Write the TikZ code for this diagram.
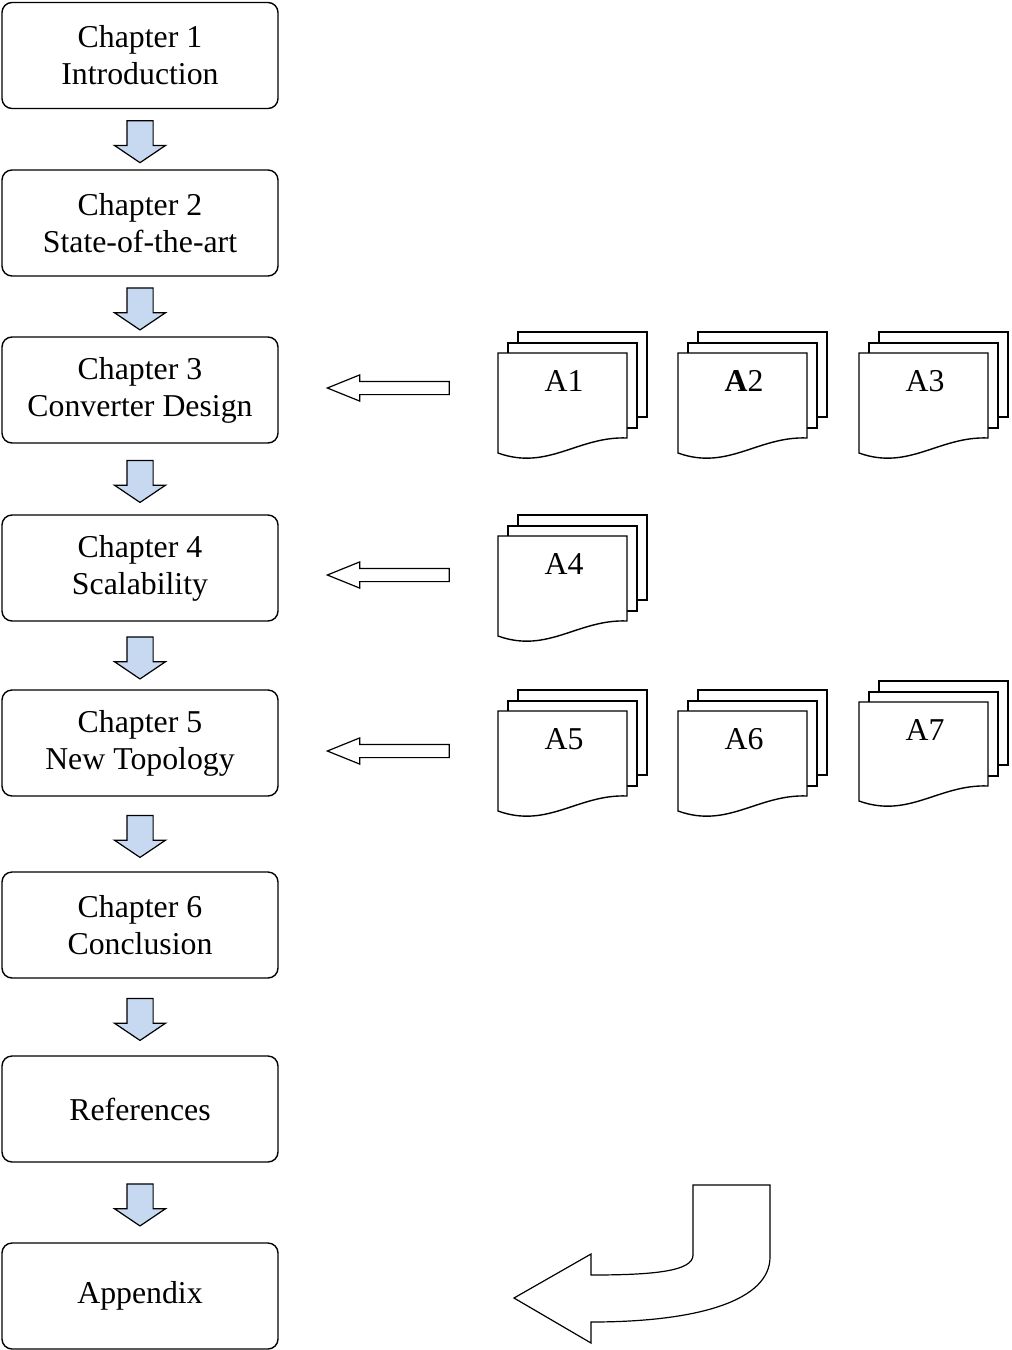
\documentclass[tikz,border=0pt]{standalone}
\usepackage{fontspec}
\setmainfont{Liberation Serif}
\usepackage{tikz}
\usetikzlibrary{arrows,shapes.arrows,calc}

\definecolor{arrblue}{RGB}{198,217,241}

\tikzset{
chap/.style={draw,thick,line width=1.4pt,rounded corners=10pt,minimum width=276pt,minimum height=106pt,align=center,font=\fontsize{31.8}{37}\selectfont},
downarr/.style={single arrow,draw,line width=1.2pt,fill=arrblue,inner xsep=12.5pt,inner ysep=0pt,minimum height=42pt,single arrow head extend=12.5pt,single arrow tip angle=112,shape border rotate=270},
leftarr/.style={single arrow,draw,line width=1.2pt,fill=white,inner xsep=0pt,inner ysep=6pt,minimum height=122pt,single arrow head extend=6.5pt,single arrow tip angle=44,shape border rotate=180},
doclab/.style={font=\fontsize{31.8}{37}\selectfont}
}

\begin{document}
\begin{tikzpicture}[x=1pt,y=-1pt]
\useasboundingbox (0,0) rectangle (1012,1350);

\foreach \i/\yy/\txt in {1/55.5/{Chapter 1\\Introduction},2/223/{Chapter 2\\State-of-the-art},3/390/{Chapter 3\\Converter Design},4/568/{Chapter 4\\Scalability},5/743/{Chapter 5\\New Topology},6/925/{Chapter 6\\Conclusion},7/1109/{References},8/1296/{Appendix}}
{
\node[chap] (c\i) at (140,\yy) {\txt};
}

\foreach \i/\j in {1/2,2/3,3/4,4/5,5/6,6/7,7/8}
{
\node[downarr] (d\i) at ($(c\i.south)!0.5!(c\j.north)+(0,-2)$) {};
}

\node[leftarr] (l3) at (396.5,388) {};
\node[leftarr] (l4) at (396.5,575) {};
\node[leftarr] (l5) at (396.5,751) {};

\foreach \x/\y/\h/\lab/\nm in {498/353/85/A1/a1,678/353/85/{\textbf{A}2}/a2,859/353/85/A3/a3,498/536/85/A4/a4,498/711/85/A5/a5,678/711/85/A6/a6,859/702/84/A7/a7}
{
\filldraw[line width=1.4pt,fill=white] (\x+20,\y-21) rectangle (\x+149,\y-21+\h);
\filldraw[line width=1.4pt,fill=white] (\x+10,\y-10) rectangle (\x+139,\y-10+\h);
\filldraw[line width=1.4pt,fill=white] (\x,\y) -- (\x+129,\y) -- (\x+129,\y+\h) .. controls (\x+80,\y+\h-2) and (\x+50,\y+\h+33) .. (\x,\y+\h+15) -- cycle;
\node[doclab] (\nm) at (\x+66,\y+28) {\lab};
}

\filldraw[line width=1.2pt,fill=white] (693,1185) -- (770,1185) -- (770,1257) .. controls (770,1300) and (700,1322) .. (591,1322) -- (591,1343) -- (514,1298) -- (591,1254) -- (591,1275) .. controls (655,1275) and (693,1271) .. (693,1255) -- cycle;
\end{tikzpicture}
\end{document}
